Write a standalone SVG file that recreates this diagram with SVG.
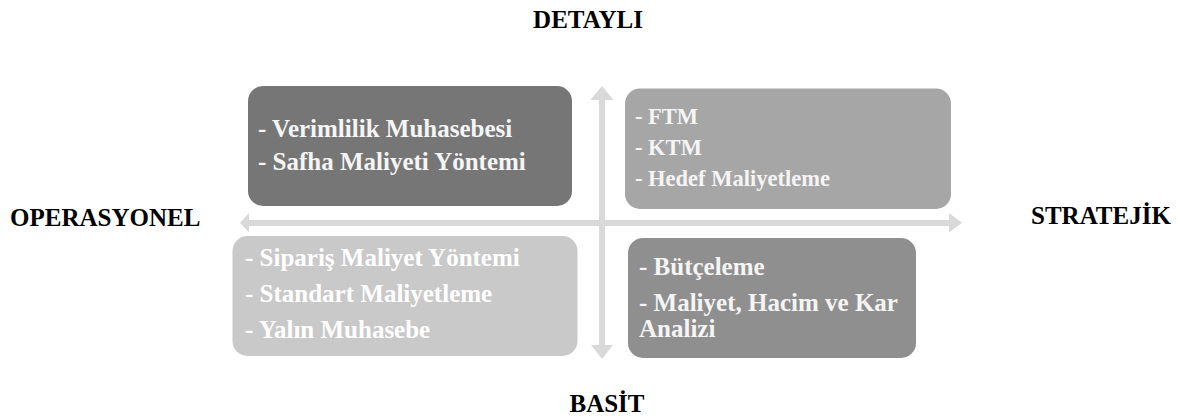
<svg xmlns="http://www.w3.org/2000/svg" width="1178" height="417" viewBox="0 0 1178 417">
<style>
.axis{font-family:"Liberation Serif","Times New Roman",serif;font-weight:bold;font-size:25px;fill:#000}
.t{font-family:"Liberation Serif","Times New Roman",serif;font-weight:bold;font-size:25px;fill:#f5f5f5}
.arrow{fill:#d9d9d9}
</style>
<rect width="1178" height="417" fill="#fff"/>
<g id="connectors">
<polygon class="arrow" points="599,100 590.5,100 602,86 613.5,100 605,100 605,345 613,345 602,359 591,345 599,345"/>
<polygon class="arrow" points="249,220 249,213 240,222.8 249,232.5 249,226 949,226 949,232.5 962,222.8 949,213 949,220"/>
</g>
<g id="node-tl">
<rect x="248" y="86" width="324" height="120" rx="15" fill="#767676"/>
<text class="t" x="258" y="137">- Verimlilik Muhasebesi</text>
<text class="t" x="258" y="170">- Safha Maliyeti Yöntemi</text>
</g>
<g id="node-tr">
<rect x="625" y="88.5" width="326" height="120.5" rx="15" fill="#a6a6a6"/>
<text class="t" x="635" y="124" style="font-size:22.5px">- FTM</text>
<text class="t" x="635" y="155" style="font-size:22.5px">- KTM</text>
<text class="t" x="635" y="186" style="font-size:22.5px">- Hedef Maliyetleme</text>
</g>
<g id="node-bl">
<rect x="232.5" y="236" width="345" height="120" rx="15" fill="#c9c9c9"/>
<text class="t" x="245" y="266" style="fill:#fff">- Sipariş Maliyet Yöntemi</text>
<text class="t" x="245" y="302" style="fill:#fff">- Standart Maliyetleme</text>
<text class="t" x="245" y="338" style="fill:#fff">- Yalın Muhasebe</text>
</g>
<g id="node-br">
<rect x="628" y="238" width="288" height="120" rx="15" fill="#8f8f8f"/>
<text class="t" x="639" y="275">- Bütçeleme</text>
<text class="t" x="639" y="311">- Maliyet, Hacim ve Kar</text>
<text class="t" x="639" y="337">Analizi</text>
</g>
<g id="labels">
<text class="axis" x="588" y="28" text-anchor="middle">DETAYLI</text>
<text class="axis" x="607" y="412" text-anchor="middle">BASİT</text>
<text class="axis" x="10" y="226">OPERASYONEL</text>
<text class="axis" x="1031" y="224">STRATEJİK</text>
</g>
</svg>
